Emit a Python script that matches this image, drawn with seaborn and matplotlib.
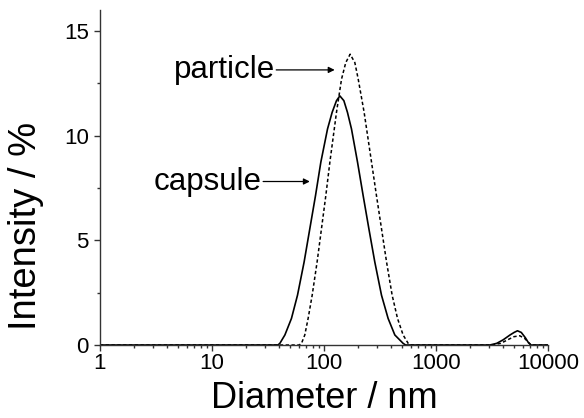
#!/usr/bin/env python3
"""DLS size distribution: capsule vs particle (intensity-weighted)."""

import matplotlib

matplotlib.use("Agg")
import matplotlib.pyplot as plt
from matplotlib.ticker import LogLocator, NullFormatter, MultipleLocator
import pandas as pd
import seaborn as sns

# Values (diameter in nm, intensity in %).
capsule_diameter = [
    1, 38.9, 40.5, 44.9, 51.4, 58.2, 66.7, 75.0, 84.3, 94.0, 107.9,
    118.6, 129.7, 139.0, 151.0, 162.6, 176.6, 200.0, 224.4, 252.4,
    285.1, 327.3, 375.0, 430.5, 510.5, 537.0,
    3035, 3500, 4000, 4600, 5000, 5360, 5800, 6300, 6700, 7050, 10000,
]
capsule_intensity = [
    0.0, 0.0, 0.08, 0.48, 1.27, 2.38, 3.97, 5.56, 7.14, 8.73, 10.32,
    11.11, 11.67, 11.9, 11.67, 11.11, 10.32, 8.73, 7.14, 5.56,
    3.97, 2.38, 1.27, 0.48, 0.08, 0.0,
    0.0, 0.08, 0.25, 0.48, 0.60, 0.68, 0.60, 0.35, 0.12, 0.0, 0.0,
]

particle_diameter = [
    1, 60.3, 63.2, 67.6, 72.4, 78.7, 87.1, 95.3, 104.2, 113.2, 129.7,
    143.9, 157.0, 171.8, 189.2, 202.8, 229.1, 266.7, 295.1, 327.3,
    363.1, 407.4, 455.0, 510.5, 566.2, 602.6,
    3200, 3800, 4500, 5000, 5620, 6200, 6800, 7100, 10000,
]
particle_intensity = [
    0.0, 0.0, 0.08, 0.48, 1.27, 2.38, 3.97, 5.56, 7.14, 8.73, 11.11,
    12.70, 13.49, 13.89, 13.49, 12.70, 11.11, 8.73, 7.14, 5.56,
    3.97, 2.38, 1.27, 0.48, 0.08, 0.0,
    0.0, 0.08, 0.28, 0.40, 0.44, 0.32, 0.10, 0.0, 0.0,
]

# Annotation anchors: (text end / arrow tail, arrow tip) in data coords.
particle_arrow = ((36.5, 13.14), (125.0, 13.14))
capsule_arrow = ((27.9, 7.81), (75.0, 7.81))


def main() -> None:
    sns.set_theme(style="ticks")
    plt.rcParams["font.family"] = ["Liberation Sans", "DejaVu Sans"]
    plt.rcParams["text.color"] = "black"
    plt.rcParams["axes.labelcolor"] = "black"
    plt.rcParams["xtick.labelcolor"] = "black"
    plt.rcParams["ytick.labelcolor"] = "black"

    fig = plt.figure(figsize=(5.84, 4.18), dpi=100)
    ax = fig.add_axes([0.171, 0.1746, 0.767, 0.8014])

    capsule = pd.DataFrame({"d": capsule_diameter, "i": capsule_intensity})
    particle = pd.DataFrame({"d": particle_diameter, "i": particle_intensity})

    sns.lineplot(data=capsule, x="d", y="i", color="black", linewidth=1.2,
                 sort=False, estimator=None, ax=ax)
    sns.lineplot(data=particle, x="d", y="i", color="black", linewidth=1.1,
                 linestyle=(0, (2.2, 1.6)), sort=False, estimator=None, ax=ax)

    ax.set_xscale("log")
    ax.set_xlim(1, 10000)
    ax.set_ylim(0, 16)

    ax.set_xticks([1, 10, 100, 1000, 10000])
    ax.set_xticklabels(["1", "10", "100", "1000", "10000"])
    ax.xaxis.set_minor_locator(LogLocator(base=10, subs=range(2, 10)))
    ax.xaxis.set_minor_formatter(NullFormatter())
    ax.set_yticks([0, 5, 10, 15])
    ax.yaxis.set_minor_locator(MultipleLocator(2.5))

    ax.tick_params(which="major", direction="out", length=4, width=1,
                   labelsize=16, pad=4, color="#333333")
    ax.tick_params(axis="x", which="major", pad=1.5)
    ax.tick_params(which="minor", direction="out", length=2.5, width=1,
                   color="#333333")

    for side in ("top", "right"):
        ax.spines[side].set_visible(False)
    for side in ("left", "bottom"):
        ax.spines[side].set_linewidth(1.0)
        ax.spines[side].set_color("#333333")

    ax.set_xlabel("Diameter / nm", fontsize=26, labelpad=5)
    ax.set_ylabel("Intensity / %", fontsize=27.5)
    # the original puts the y label below the axis centre
    ax.yaxis.set_label_coords(-0.125, 0.355)

    for label, (tail, tip) in (("particle", particle_arrow),
                               ("capsule", capsule_arrow)):
        ax.text(tail[0], tail[1], label, ha="right", va="center",
                fontsize=22.5)
        ax.annotate("", xy=tip, xytext=tail,
                    arrowprops=dict(arrowstyle="-|>", color="black",
                                    lw=0.9, mutation_scale=9,
                                    shrinkA=1, shrinkB=0))

    fig.savefig("out.png", dpi=100)


if __name__ == "__main__":
    main()
